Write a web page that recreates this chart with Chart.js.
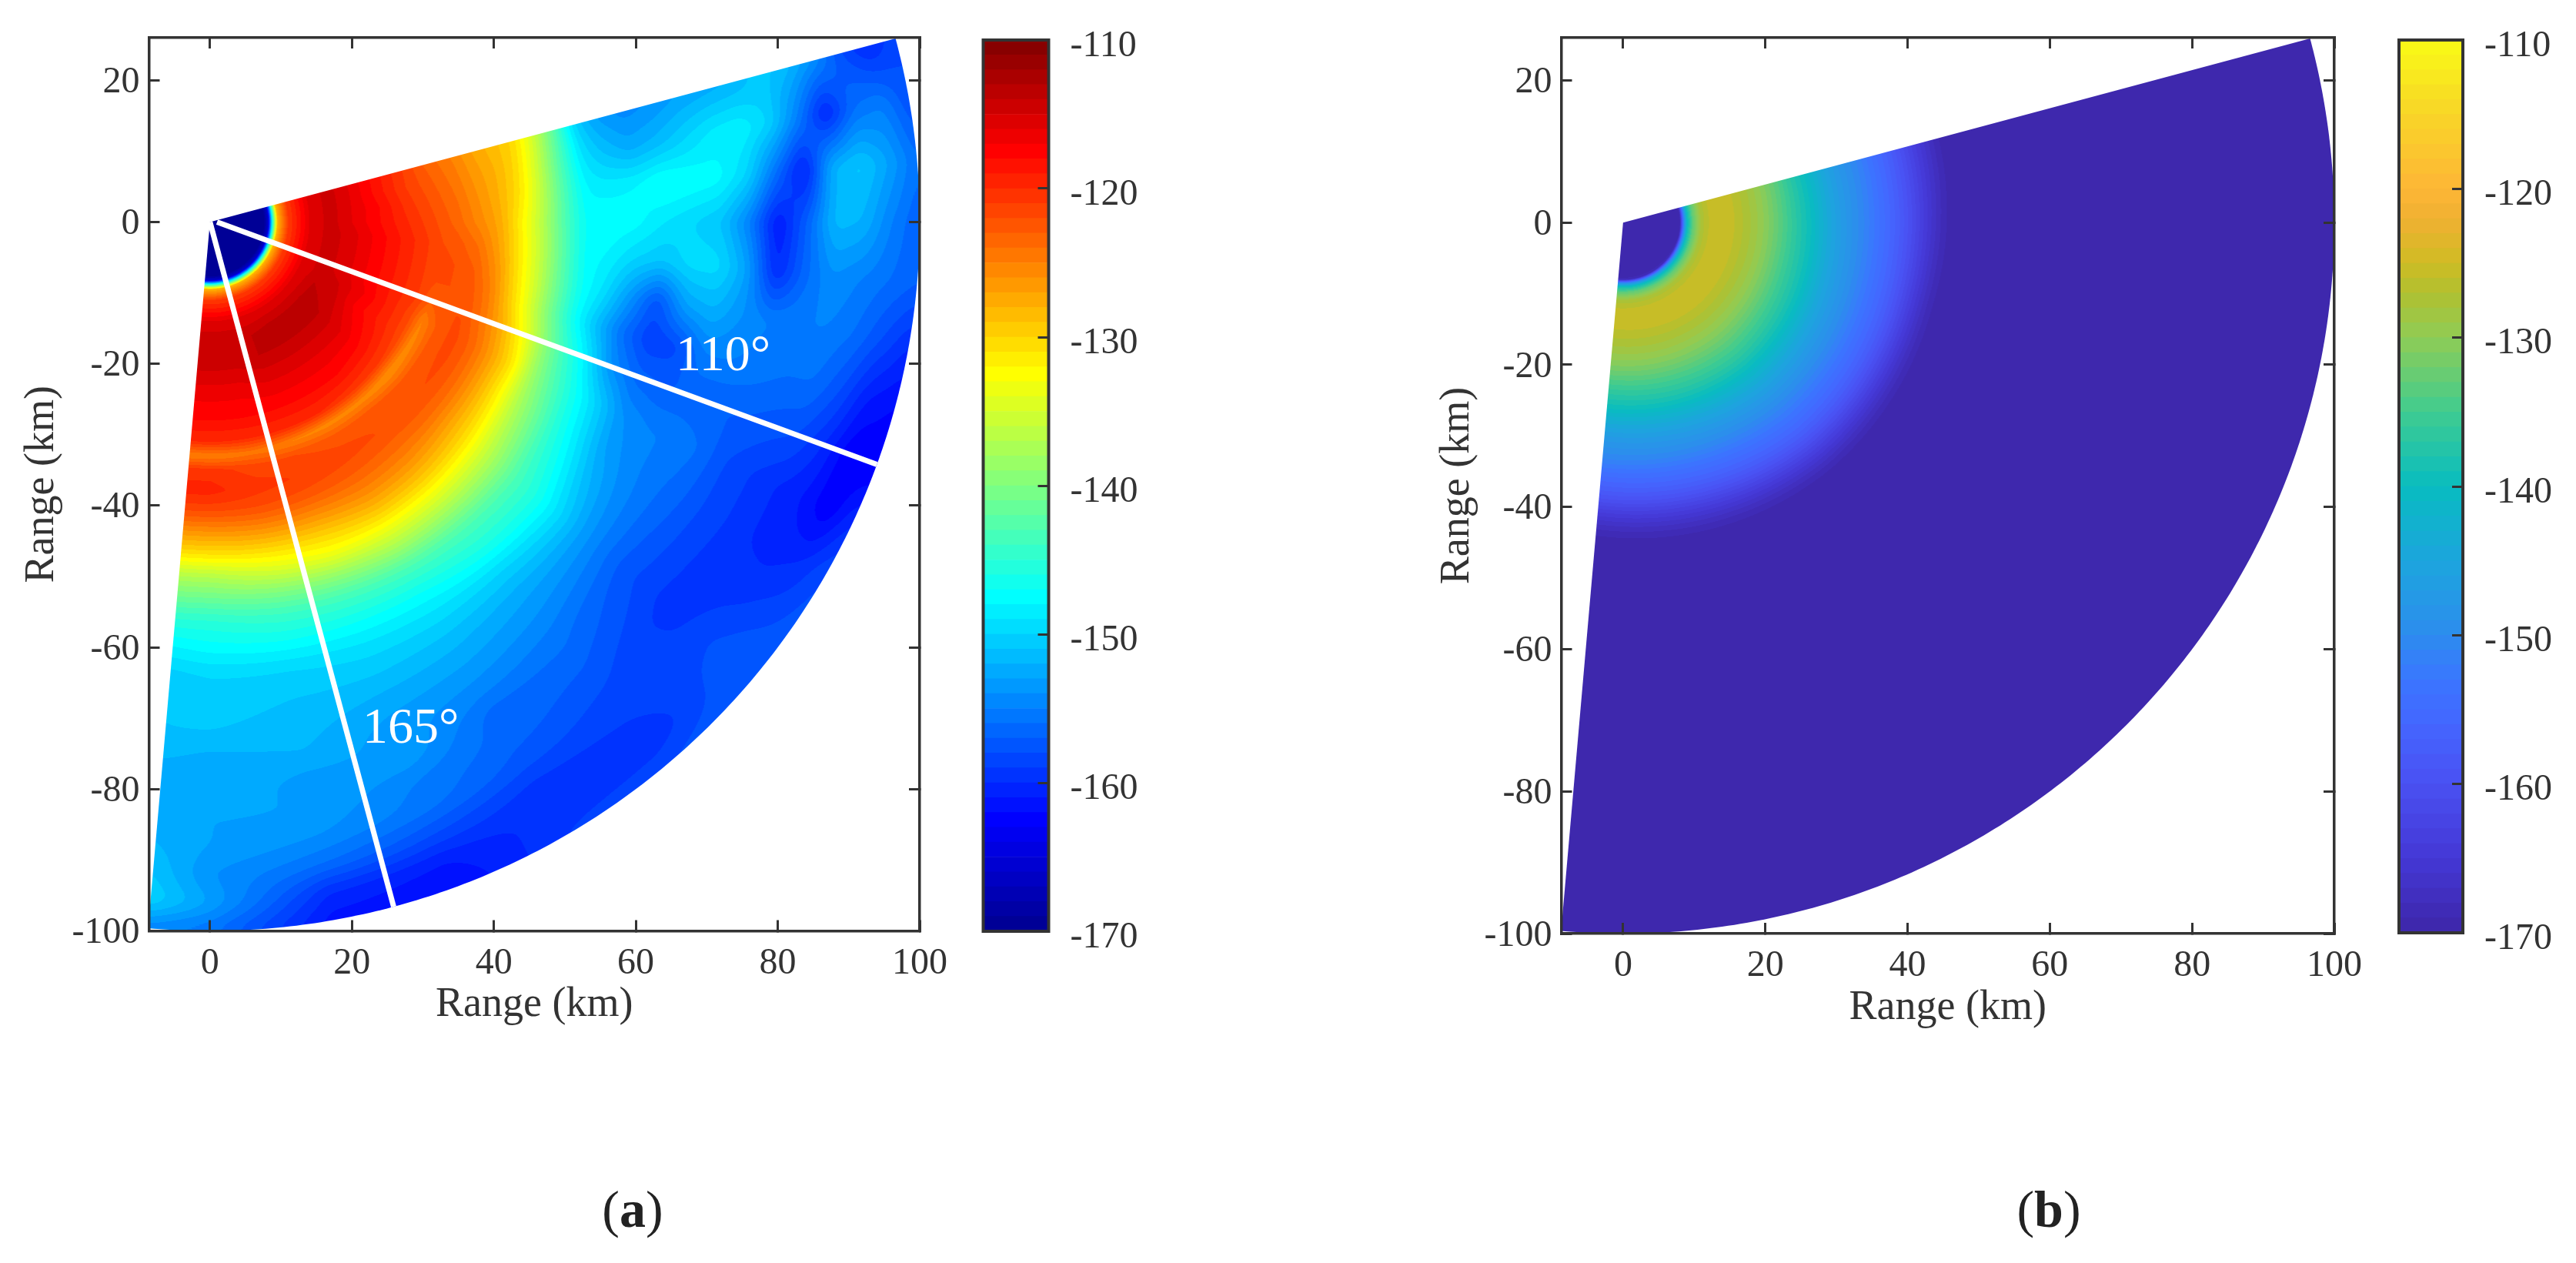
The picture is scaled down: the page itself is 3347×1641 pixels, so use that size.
<!DOCTYPE html>
<html>
<head>
<meta charset="utf-8">
<title>Range maps</title>
<script src="https://cdn.jsdelivr.net/npm/chart.js@4"></script>
<style>
  html, body { margin: 0; padding: 0; background: #fff; }
  body { width: 3347px; height: 1641px; position: relative; overflow: hidden; }
  canvas { position: absolute; }
  .caption { position: absolute; top: 1532px; width: 200px; text-align: center; font: 68px "Liberation Serif", serif; color: #222; }
</style>
</head>
<body>
<canvas id="mapA" style="left:0;top:0"></canvas>
<canvas id="barA" style="left:1250px;top:0"></canvas>
<canvas id="mapB" style="left:1835px;top:0"></canvas>
<canvas id="barB" style="left:3090px;top:0"></canvas>
<div class="caption" style="left:722px">(<b>a</b>)</div>
<div class="caption" style="left:2562px">(<b>b</b>)</div>
<script>
// tick labels
const xTicks = [0, 20, 40, 60, 80, 100];
const yTicks = [-100, -80, -60, -40, -20, 0, 20];
const barTicks = [-170, -160, -150, -140, -130, -120, -110];

// lower edge of each colour band on the colour bars
const barLevels = [-170, -169, -168, -167, -166, -165, -164, -163, -162, -161, -160, -159, -158, -157, -156,
    -155, -154, -153, -152, -151, -150, -149, -148, -147, -146, -145, -144, -143, -142, -141,
    -140, -139, -138, -137, -136, -135, -134, -133, -132, -131, -130, -129, -128, -127, -126,
    -125, -124, -123, -122, -121, -120, -119, -118, -117, -116, -115, -114, -113, -112, -111];

// colour maps: value, r, g, b
const jetStops = [[-170, 0, 0, 143], [-162.5, 0, 0, 255], [-147.5, 0, 255, 255], [-132.5, 255, 255, 0], [-117.5, 255, 0, 0], [-110, 127, 0, 0]];
const parulaStops = [[-170, 61, 38, 168], [-165, 68, 56, 213], [-160, 74, 80, 242], [-156, 68, 102, 255], [-153, 58, 118, 255],
    [-150, 45, 140, 238], [-145, 28, 165, 221], [-140, 8, 188, 192], [-135, 64, 204, 144], [-130, 143, 204, 85],
    [-127, 176, 192, 48], [-125, 207, 188, 36], [-122, 240, 176, 50], [-120, 253, 182, 54], [-115, 248, 213, 40], [-110, 249, 251, 21]];

// panel (a): level in dB read along each bearing (rows) at each range (columns)
const rangesA = [0, 7.5, 8.2, 8.8, 9.5, 11, 14, 17, 20, 24, 28, 31, 33, 35, 38, 41, 44, 47, 50, 53, 56, 60, 64, 68, 72, 76, 80, 84, 88, 92, 96, 100];
const bearingsA = [75, 80, 85, 90, 95, 100, 105, 110, 115, 120, 130, 140, 150, 160, 170, 180, 185];
const levelsA = [
    [-170, -170, -166, -146, -128, -121, -116, -114.5, -116, -118.5, -121, -123, -124, -125, -127, -128.5, -130, -135, -142, -150, -153, -154.5, -154, -153, -152.5, -152, -150.5, -151.5, -154, -158, -160.5, -158],
    [-170, -170, -166, -146, -128, -121, -116, -114.5, -116, -118.5, -121, -122.5, -123.5, -124.5, -126.5, -128, -130.5, -136, -143, -149, -151, -152.5, -151.5, -150, -148.5, -148, -150, -155, -161, -156, -155, -158],
    [-170, -170, -166, -146, -128, -121, -116, -114.5, -116, -118, -120.5, -122, -123, -124, -126, -128, -131, -136.5, -143, -148, -148.5, -148, -146.5, -147, -147.5, -150, -156, -161.5, -152, -150.5, -153, -156],
    [-170, -170, -166, -146, -128, -121, -116, -114.5, -116, -118, -120, -121.5, -122.5, -123.5, -125.5, -127.5, -132, -137, -143, -147.5, -147, -147.5, -149, -150, -151, -155, -161.5, -157, -151.5, -152, -155, -157],
    [-170, -170, -166, -146, -128, -121, -116, -114.5, -115.5, -117.5, -119.5, -121, -122, -122.5, -124, -127, -131.5, -136.5, -142.5, -147.5, -148, -150, -151, -149.5, -149.5, -153, -160.5, -156.5, -154, -155, -156, -157],
    [-170, -170, -166, -146, -128, -121, -116, -114.5, -115.5, -117.5, -119.5, -121, -121.5, -122, -123, -126, -131, -136, -142, -147, -149, -153.5, -158, -153, -152, -154, -155, -155, -155, -156, -158, -160],
    [-170, -170, -166, -146, -128, -121, -116, -114.5, -115.5, -117.5, -119.5, -121, -122, -122, -122.5, -125, -130, -135.5, -141.5, -147, -151, -156, -159, -158.5, -155, -155, -155.5, -156, -156, -158, -161, -162],
    [-170, -170, -166, -146, -128, -121, -116, -114.5, -115.5, -117.5, -119.5, -121, -123, -122, -122, -124.5, -128, -133, -139, -144, -148, -154, -156.5, -157, -157, -157, -157, -157.5, -158, -160, -163, -163],
    [-170, -170, -166, -146, -128, -121, -116, -114.5, -115, -117, -119.5, -121.5, -125, -123, -121.5, -123.5, -127, -131, -138, -142.5, -146, -150, -154, -155, -155, -156, -158, -159, -160, -161, -163, -160],
    [-170, -170, -166, -146, -128, -121, -116, -114, -114.5, -117.5, -119.5, -121.5, -125.5, -123, -121.5, -123.5, -127, -131.5, -137, -141, -145, -149, -153, -154.5, -155.5, -156.5, -158, -159, -160, -160.5, -160, -158],
    [-170, -170, -166, -146, -128, -121, -116, -113.5, -114, -116, -118.5, -121, -126, -123, -122, -123.5, -127, -130.5, -135, -139, -143, -146, -149.5, -153, -155.5, -157.5, -158.5, -159.5, -159, -158, -157, -157],
    [-170, -170, -166, -146, -128, -121, -116, -113.5, -114, -116, -118, -120.5, -125.5, -122.5, -122, -123.5, -126, -129.5, -134, -138.5, -143, -146, -150, -152.5, -154, -155.5, -156.5, -157.5, -158.5, -159, -160, -158],
    [-170, -170, -166, -146, -128, -121, -116, -113.5, -114, -116, -118, -120, -125.5, -122.5, -121.5, -123, -125.5, -129, -133.5, -138, -143, -147, -149.5, -151.5, -153, -154.5, -156.5, -156.5, -157.5, -159.5, -159.5, -159],
    [-170, -170, -166, -146, -128, -121, -116, -114, -114, -116, -118, -120, -125, -122, -121, -122.5, -126, -130, -133.5, -139, -143.5, -147, -149.5, -151, -152.5, -153.5, -153, -155, -155.5, -158, -161, -162],
    [-170, -170, -166, -146, -128, -121, -116, -114, -114.5, -116.5, -118, -120, -124.5, -121.5, -120.5, -122, -126, -130.5, -135, -140, -144, -147, -150, -151, -151.5, -152, -153.5, -153, -154, -156, -160, -161.5],
    [-170, -170, -166, -146, -128, -121, -116, -114, -114.5, -116.5, -118, -120, -125, -120.5, -119.5, -122, -126.5, -131, -137, -141, -145, -147.5, -150, -150.5, -151, -152.5, -152, -153, -153, -154, -153, -156],
    [-170, -170, -166, -146, -128, -121, -116, -114, -114.5, -116.5, -118, -120, -125, -120.5, -119.5, -122, -126.5, -131, -137, -141, -145, -148, -150.5, -151, -151, -152, -153, -152, -152, -151, -150, -155]
];

// panel (b): same idea, the field is nearly radial so a few bearings are enough
const rangesB = [0, 7.5, 8, 8.5, 9, 9.8, 11, 12.7, 14.5, 16.3, 18, 19.9, 21.5, 22.8, 24.5, 26.4, 28, 30, 32, 33.6, 35, 37.2, 39, 40.8, 42.5, 44.4, 46, 48, 100];
const bearingsB = [75, 105, 140, 185];
const levelsB = [
    [-170, -170, -169, -152, -140, -133, -127.5, -125, -125, -126.5, -128, -130, -132.5, -134.5, -137.5, -140, -143, -146.5, -149, -150.5, -152.5, -155.5, -158, -161, -164, -167, -169.5, -170, -170],
    [-170, -170, -169, -152, -140, -133, -127.5, -125, -125, -126.5, -128, -130, -132.5, -134.5, -137, -139.5, -142.5, -146, -148.5, -150.5, -152.5, -155.5, -158, -161.5, -165, -168.5, -170, -170, -170],
    [-170, -170, -168, -150, -140, -133, -127.5, -125, -125, -126.5, -128, -130, -132, -134, -136, -139, -141.5, -145, -148, -150, -152, -155, -157.5, -161, -164.5, -168, -170, -170, -170],
    [-170, -170, -168, -150, -140, -133, -127.5, -125, -125.5, -127, -128.5, -130.5, -133, -135, -137.5, -140, -143.5, -147, -149.5, -151, -154, -157, -160, -164, -167, -169.5, -170, -170, -170]
];

// white guide lines and their labels in panel (a)
const guideBearings = [110, 165];
const guideStartX = [1, 0];
const guideReach = 100;
const guideLabels = ['110°', '165°'];
const guideLabelX = [72.3, 28.3];
const guideLabelY = [-19, -71.6];

const sectorFirst = 75, sectorLast = 185, sectorReach = 100;
const inkColor = '#333';
const serif = 'Liberation Serif';

function toXY(range, bearing) {
    const a = bearing * Math.PI / 180;
    return { x: range * Math.sin(a), y: range * Math.cos(a) };
}

function findCell(list, val) {
    if (val <= list[0]) return [0, 0];
    for (let i = 1; i < list.length; i++) {
        if (val <= list[i]) return [i - 1, (val - list[i - 1]) / (list[i] - list[i - 1])];
    }
    return [list.length - 2, 1];
}

// one colour per 1 dB band, like the filled contours
function bandColor(stops, level) {
    const v = Math.max(-170, Math.min(-111, Math.floor(level))) + 0.5;
    let i = 1;
    while (i < stops.length - 1 && v > stops[i][0]) i++;
    const a = stops[i - 1], b = stops[i], t = (v - a[0]) / (b[0] - a[0]);
    return [0, 1, 2].map(k => Math.round(a[k + 1] + (b[k + 1] - a[k + 1]) * t));
}

// box blur along rows then columns, rounds off the corners between grid nodes
function softened(src, w, h, rad) {
    const out = new Float32Array(src.length), tmp = new Float32Array(src.length);
    for (let j = 0; j < h; j++) {
        for (let i = 0; i < w; i++) {
            let s = 0, n = 0;
            for (let k = Math.max(0, i - rad); k <= Math.min(w - 1, i + rad); k += 2) { s += src[j * w + k]; n++; }
            tmp[j * w + i] = s / n;
        }
    }
    for (let i = 0; i < w; i++) {
        for (let j = 0; j < h; j++) {
            let s = 0, n = 0;
            for (let k = Math.max(0, j - rad); k <= Math.min(h - 1, j + rad); k += 2) { s += tmp[k * w + i]; n++; }
            out[j * w + i] = s / n;
        }
    }
    return out;
}

// paints the sector pixel by pixel, asking the chart's scales where each pixel is
function fieldPlugin(ranges, bearings, levels, stops, softFrom) {
    return {
        id: 'polarField',
        beforeDatasetsDraw(chart) {
            const area = chart.chartArea, sx = chart.scales.x, sy = chart.scales.y;
            const w = Math.ceil(area.width), h = Math.ceil(area.height);
            const raw = new Float32Array(w * h), dist = new Float32Array(w * h);
            for (let j = 0; j < h; j++) {
                const y = sy.getValueForPixel(area.top + j + 0.5);
                for (let i = 0; i < w; i++) {
                    const x = sx.getValueForPixel(area.left + i + 0.5);
                    const r = Math.hypot(x, y);
                    let b = Math.atan2(x, y) * 180 / Math.PI;
                    if (b < -90) b += 360;
                    const [ri, rt] = findCell(ranges, r);
                    const [bi, bt] = findCell(bearings, b);
                    const top = levels[bi][ri] * (1 - rt) + levels[bi][ri + 1] * rt;
                    const low = levels[bi + 1][ri] * (1 - rt) + levels[bi + 1][ri + 1] * rt;
                    raw[j * w + i] = top * (1 - bt) + low * bt;
                    dist[j * w + i] = r;
                }
            }
            const soft = softened(softened(raw, w, h, 8), w, h, 8);
            const off = document.createElement('canvas');
            off.width = w; off.height = h;
            const octx = off.getContext('2d');
            const img = octx.createImageData(w, h);
            const cache = {};
            for (let p = 0; p < w * h; p++) {
                const blend = Math.max(0, Math.min(1, (dist[p] - softFrom) / 4));
                const band = Math.floor(raw[p] * (1 - blend) + soft[p] * blend);
                const c = cache[band] || (cache[band] = bandColor(stops, band));
                img.data[p * 4] = c[0]; img.data[p * 4 + 1] = c[1]; img.data[p * 4 + 2] = c[2]; img.data[p * 4 + 3] = 255;
            }
            octx.putImageData(img, 0, 0);
            const ctx = chart.ctx;
            ctx.save();
            ctx.beginPath();
            ctx.moveTo(sx.getPixelForValue(0), sy.getPixelForValue(0));
            for (let b = sectorFirst; b <= sectorLast; b += 0.5) {
                const q = toXY(sectorReach, b);
                ctx.lineTo(sx.getPixelForValue(q.x), sy.getPixelForValue(q.y));
            }
            ctx.closePath();
            ctx.clip();
            ctx.drawImage(off, area.left, area.top);
            ctx.restore();
        }
    };
}

const guideTextPlugin = {
    id: 'guideText',
    afterDatasetsDraw(chart) {
        const ctx = chart.ctx;
        ctx.save();
        ctx.fillStyle = '#fff';
        ctx.font = '66px "' + serif + '"';
        ctx.textAlign = 'center';
        ctx.textBaseline = 'middle';
        guideLabels.forEach((t, i) => {
            ctx.fillText(t, chart.scales.x.getPixelForValue(guideLabelX[i]), chart.scales.y.getPixelForValue(guideLabelY[i]));
        });
        ctx.restore();
    }
};

const framePlugin = {
    id: 'frame',
    afterDraw(chart) {
        const a = chart.chartArea, ctx = chart.ctx;
        ctx.save();
        ctx.strokeStyle = inkColor;
        ctx.lineWidth = 4;
        ctx.strokeRect(a.left, a.top, a.width, a.height);
        ctx.restore();
    }
};

// tick labels may not push the plot area in, the layout is fixed by hand
function noOverhang(s) {
    s.paddingLeft = 0; s.paddingRight = 0; s.paddingTop = 0; s.paddingBottom = 0;
}

function axisLook(tickValues) {
    return {
        afterBuildTicks: s => { s.ticks = tickValues.map(v => ({ value: v })); },
        grid: { drawOnChartArea: false, drawTicks: true, tickLength: -14, tickWidth: 3, tickColor: inkColor, z: 1 },
        border: { display: true, color: inkColor, width: 3.5, z: 1 }
    };
}

function rangeTitle(padding) {
    return { display: true, text: 'Range (km)', color: inkColor, font: { family: serif, size: 54 }, padding: padding };
}

function drawMap(id, box, ranges, bearings, levels, stops, withGuides) {
    const canvas = document.getElementById(id);
    canvas.width = box.width; canvas.height = 1400;

    // grid nodes of the field, the plugin above shades between them
    const nodes = [];
    bearings.forEach((b, i) => ranges.forEach((r, j) => {
        nodes.push({ ...toXY(r, b), level: levels[i][j] });
    }));
    const datasets = [{ label: 'Level (dB)', data: nodes, pointRadius: 0, showLine: false }];
    if (withGuides) {
        guideBearings.forEach((b, i) => {
            datasets.push({
                label: b + '°', data: [{ x: guideStartX[i], y: 0 }, toXY(guideReach, b)], showLine: true,
                borderColor: '#fff', borderWidth: 7, pointRadius: 0
            });
        });
    }

    const textFont = { family: serif, size: 48 };
    new Chart(canvas, {
        type: 'scatter',
        data: { datasets: datasets },
        options: {
            responsive: false,
            animation: false,
            events: [],
            layout: { padding: { top: box.top, right: box.width - box.right, left: 0, bottom: 0 } },
            plugins: { legend: { display: false }, tooltip: { enabled: false }, title: { display: false } },
            scales: {
                x: {
                    type: 'linear', position: 'bottom', min: box.xMin, max: 100, ...axisLook(xTicks),
                    afterFit: s => { s.height = 1400 - box.bottom; noOverhang(s); },
                    ticks: { color: inkColor, font: textFont, padding: 28, maxRotation: 0, autoSkip: false, callback: v => String(v) },
                    title: rangeTitle({ top: 0, bottom: 1400 - box.bottom - 129 })
                },
                y: {
                    type: 'linear', position: 'left', min: -100, max: 26, ...axisLook(yTicks),
                    afterFit: s => { s.width = box.left; noOverhang(s); },
                    // the empty first line nudges the number a little below its tick, as in the figure
                    ticks: { color: inkColor, font: { ...textFont, lineHeight: '6px' }, padding: 26, autoSkip: false, callback: v => ['', String(v)] },
                    title: rangeTitle({ top: box.titleLeft, bottom: 0 })
                },
                xTop: {
                    axis: 'x', type: 'linear', position: 'top', min: box.xMin, max: 100, ...axisLook(xTicks),
                    afterFit: s => { s.height = 0; noOverhang(s); },
                    ticks: { display: false }
                },
                yRight: {
                    axis: 'y', type: 'linear', position: 'right', min: -100, max: 26, ...axisLook(yTicks),
                    afterFit: s => { s.width = 0; noOverhang(s); },
                    ticks: { display: false }
                }
            }
        },
        plugins: withGuides ? [fieldPlugin(ranges, bearings, levels, stops, 36), guideTextPlugin]
            : [fieldPlugin(ranges, bearings, levels, stops, 11)]
    });
}

function drawBar(id, box, stops) {
    const canvas = document.getElementById(id);
    canvas.width = 257; canvas.height = 1300;
    new Chart(canvas, {
        type: 'bar',
        data: {
            labels: ['dB'],
            datasets: barLevels.map(lo => ({
                label: String(lo),
                data: [[lo, lo + 1]],
                backgroundColor: 'rgb(' + bandColor(stops, lo).join(',') + ')',
                barPercentage: 1,
                categoryPercentage: 1,
                grouped: false
            }))
        },
        options: {
            responsive: false,
            animation: false,
            events: [],
            layout: { padding: { top: box.top, left: box.left, right: 0, bottom: 1300 - box.bottom } },
            plugins: { legend: { display: false }, tooltip: { enabled: false }, title: { display: false } },
            scales: {
                x: { display: false },
                y: {
                    type: 'linear', position: 'right', min: -170, max: -110, ...axisLook(barTicks),
                    border: { display: false },
                    afterFit: s => { s.width = 257 - box.right; noOverhang(s); },
                    ticks: { color: inkColor, font: { family: serif, size: 48, lineHeight: '16px' }, padding: 42, autoSkip: false, callback: v => ['', String(v)] }
                }
            }
        },
        plugins: [framePlugin]
    });
}

drawMap('mapA', { width: 1240, left: 193.5, right: 1195, top: 49, bottom: 1209.5, xMin: -8.6, titleLeft: 22 }, rangesA, bearingsA, levelsA, jetStops, true);
drawBar('barA', { left: 27.5, right: 112.5, top: 52, bottom: 1210 }, jetStops);
drawMap('mapB', { width: 1240, left: 193.5, right: 1198, top: 49, bottom: 1213, xMin: -8.7, titleLeft: 26 }, rangesB, bearingsB, levelsB, parulaStops, false);
drawBar('barB', { left: 27, right: 110, top: 52, bottom: 1212 }, parulaStops);
</script>
</body>
</html>
